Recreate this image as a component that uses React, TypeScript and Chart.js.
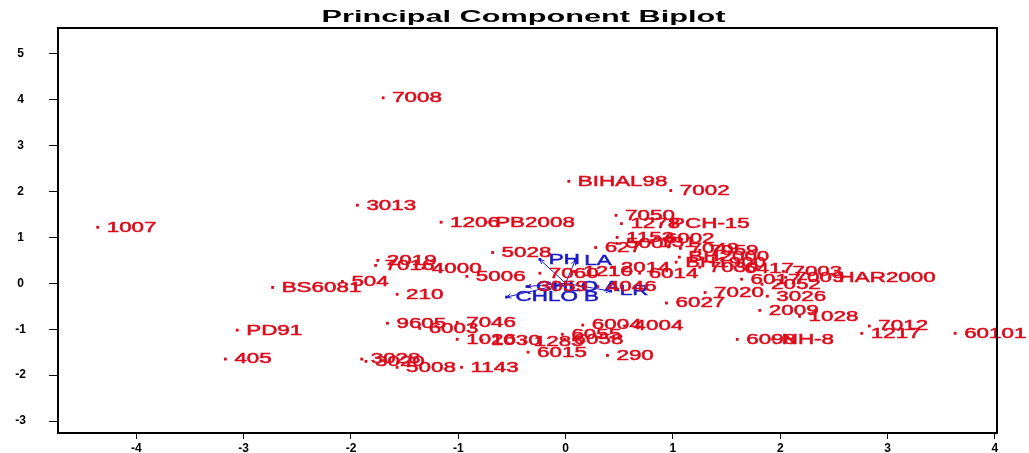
import React, { useEffect, useRef } from "react";
import { Chart, registerables } from "chart.js";

Chart.register(...registerables);

const TITLE = "Principal Component Biplot";
const X_TICKS = [-4, -3, -2, -1, 0, 1, 2, 3, 4];
const Y_TICKS = [-3, -2, -1, 0, 1, 2, 3, 4, 5];

const GENOTYPES = [
  "1007", "7008", "BIHAL98", "7002", "3013", "1206", "PB2008", "7050", "1278", "PCH-15",
  "1153", "6002", "5007", "131", "627", "7049", "7059", "BH2000", "BH1900", "7030",
  "6417", "7003", "7009", "HAR2000", "6017", "2052", "4046", "7020", "3026", "6027",
  "2009", "1028", "6098", "NH-8", "7012", "1217", "60101", "PD91", "405", "BS6081",
  "504", "210", "2019", "7016", "4000", "5006", "5028", "7060", "1210", "2014",
  "6014", "3059", "9605", "7046", "6003", "1026", "1030", "1285", "6055", "6058",
  "6004", "4004", "6015", "290", "1143", "3028", "3020", "5008",
];
const PC1 = [
  -4.36, -1.70, 0.03, 0.98, -1.94, -1.16, -0.74, 0.47, 0.52, 0.89,
  0.48, 0.84, 0.48, 0.79, 0.28, 1.07, 1.25, 1.06, 1.03, 1.25,
  1.58, 2.03, 2.05, 2.46, 1.64, 1.83, 0.30, 1.30, 1.88, 0.94,
  1.81, 2.18, 1.60, 1.93, 2.83, 2.76, 3.63, -3.06, -3.17, -2.73,
  -2.08, -1.57, -1.75, -1.77, -1.33, -0.92, -0.68, -0.24, 0.08, 0.43,
  0.69, -0.34, -1.66, -1.01, -1.36, -1.01, -0.78, -0.38, -0.03, -0.01,
  0.16, 0.55, -0.35, 0.39, -0.97, -1.90, -1.86, -1.57,
];
const PC2 = [
  1.22, 4.04, 2.22, 2.02, 1.70, 1.33, 1.33, 1.48, 1.30, 1.30,
  1.00, 0.98, 0.87, 0.89, 0.78, 0.76, 0.72, 0.57, 0.46, 0.35,
  0.33, 0.26, 0.13, 0.13, 0.09, -0.02, -0.07, -0.20, -0.28, -0.43,
  -0.59, -0.72, -1.22, -1.22, -0.93, -1.09, -1.09, -1.02, -1.65, -0.09,
  0.04, -0.24, 0.50, 0.39, 0.33, 0.15, 0.67, 0.22, 0.26, 0.35,
  0.22, -0.07, -0.87, -0.85, -0.98, -1.22, -1.24, -1.28, -1.11, -1.22,
  -0.91, -0.93, -1.50, -1.57, -1.83, -1.65, -1.70, -1.83,
];

const TRAITS = ["PH", "LA", "CHLO A", "CHLO B", "LR"];
const TRAIT_PC1 = [-0.24, 0.09, -0.36, -0.55, 0.42];
const TRAIT_PC2 = [0.52, 0.50, -0.07, -0.30, -0.17];

const RED = "#dc0c1c";
const BLUE = "#1c1cc4";
const LABEL_FONT = "14px 'Liberation Sans', Arial, sans-serif";
const LABEL_STRETCH = 1.6;

const labelPlugin = {
  id: "biplotLabels",
  afterDatasetsDraw(chart: any) {
    const ctx = chart.ctx;
    chart.data.datasets.forEach((ds: any, di: number) => {
      const meta = chart.getDatasetMeta(di);
      if (ds.arrowHead) {
        const pts = meta.data;
        if (pts.length < 2) return;
        const a = pts[0], b = pts[pts.length - 1];
        const ang = Math.atan2(b.y - a.y, b.x - a.x);
        const L = 5;
        ctx.save();
        ctx.strokeStyle = BLUE;
        ctx.lineWidth = 1;
        ctx.beginPath();
        ctx.moveTo(b.x - L * Math.cos(ang - 0.45), b.y - L * Math.sin(ang - 0.45));
        ctx.lineTo(b.x, b.y);
        ctx.lineTo(b.x - L * Math.cos(ang + 0.45), b.y - L * Math.sin(ang + 0.45));
        ctx.stroke();
        ctx.restore();
      }
      const labels: string[] | undefined = ds.pointLabels;
      if (!labels) return;
      ctx.save();
      ctx.font = LABEL_FONT;
      ctx.fillStyle = ds.labelColor;
      ctx.strokeStyle = ds.labelColor;
      ctx.lineWidth = 0.5;
      ctx.textBaseline = "middle";
      ctx.textAlign = "left";
      meta.data.forEach((el: any, i: number) => {
        const t = labels[i];
        if (!t) return;
        ctx.save();
        ctx.translate(el.x + 9, el.y + 0.5);
        ctx.scale(LABEL_STRETCH, 1);
        ctx.fillText(t, 0, 0);
        ctx.strokeText(t, 0, 0);
        ctx.restore();
      });
      ctx.restore();
    });
  },
  afterDraw(chart: any) {
    const ctx = chart.ctx;
    const { left, right, top, bottom } = chart.chartArea;
    ctx.save();
    ctx.strokeStyle = "#000";
    ctx.lineWidth = 2;
    ctx.strokeRect(left, top, right - left, bottom - top);
    ctx.font = "bold 16px 'Liberation Sans', Arial, sans-serif";
    ctx.fillStyle = "#000";
    ctx.textBaseline = "middle";
    ctx.textAlign = "center";
    const w = ctx.measureText(TITLE).width;
    const sx = 404 / w;
    ctx.translate((left + right) / 2 - 4, 18);
    ctx.scale(sx, 1);
    ctx.fillText(TITLE, 0, 0);
    ctx.restore();
  },
};

export default function App() {
  const ref = useRef<HTMLCanvasElement | null>(null);
  useEffect(() => {
    if (!ref.current) return;
    const datasets: any[] = [];
    TRAITS.forEach((t, i) => {
      datasets.push({
        label: t + " vector",
        data: [{ x: 0, y: 0 }, { x: TRAIT_PC1[i], y: TRAIT_PC2[i] }],
        showLine: true,
        borderColor: BLUE,
        borderWidth: 1,
        pointRadius: 0,
        arrowHead: true,
      });
    });
    datasets.push({
      label: "Traits",
      data: TRAITS.map((_, i) => ({ x: TRAIT_PC1[i], y: TRAIT_PC2[i] })),
      pointStyle: "rect",
      pointRadius: 2,
      backgroundColor: BLUE,
      borderWidth: 0,
      pointLabels: TRAITS,
      labelColor: BLUE,
    });
    datasets.push({
      label: "Genotypes",
      data: GENOTYPES.map((_, i) => ({ x: PC1[i], y: PC2[i] })),
      pointStyle: "rect",
      pointRadius: 2,
      backgroundColor: RED,
      borderWidth: 0,
      pointLabels: GENOTYPES,
      labelColor: RED,
    });

    const tickFont = { family: "'Liberation Sans', Arial, sans-serif", size: 12, weight: "bold" as const };
    const chart = new Chart(ref.current, {
      type: "scatter",
      data: { datasets },
      options: {
        animation: false,
        responsive: false,
        devicePixelRatio: 1,
        layout: { padding: { top: 28, right: 32, left: 0, bottom: 0 } },
        plugins: { legend: { display: false }, tooltip: { enabled: false }, title: { display: false } },
        scales: {
          x: {
            type: "linear",
            min: -4.73,
            max: 4.02,
            afterBuildTicks: (s: any) => { s.ticks = X_TICKS.map((v) => ({ value: v })); },
            afterFit: (s: any) => { s.height = 20; s.paddingTop = 0; s.paddingBottom = 0; },
            grid: { display: true, drawOnChartArea: false, drawTicks: true, tickLength: 6, color: "#000", lineWidth: 1 },
            border: { display: false },
            ticks: { color: "#000", font: tickFont, padding: 2, maxRotation: 0, autoSkip: false },
          },
          y: {
            type: "linear",
            min: -3.26,
            max: 5.56,
            afterBuildTicks: (s: any) => { s.ticks = Y_TICKS.map((v) => ({ value: v })); },
            afterFit: (s: any) => { s.width = 58; s.paddingTop = 0; s.paddingBottom = 0; },
            grid: { display: true, drawOnChartArea: false, drawTicks: true, tickLength: 9, color: "#000", lineWidth: 1 },
            border: { display: false },
            ticks: { color: "#000", font: tickFont, padding: 23, crossAlign: "center", autoSkip: false },
          },
        },
      } as any,
      plugins: [labelPlugin],
    });
    return () => chart.destroy();
  }, []);

  return (
    <div style={{ position: "absolute", left: 0, top: 0, width: 1029, height: 453, background: "#fff" }}>
      <canvas ref={ref} width={1029} height={453} style={{ display: "block" }} />
    </div>
  );
}
